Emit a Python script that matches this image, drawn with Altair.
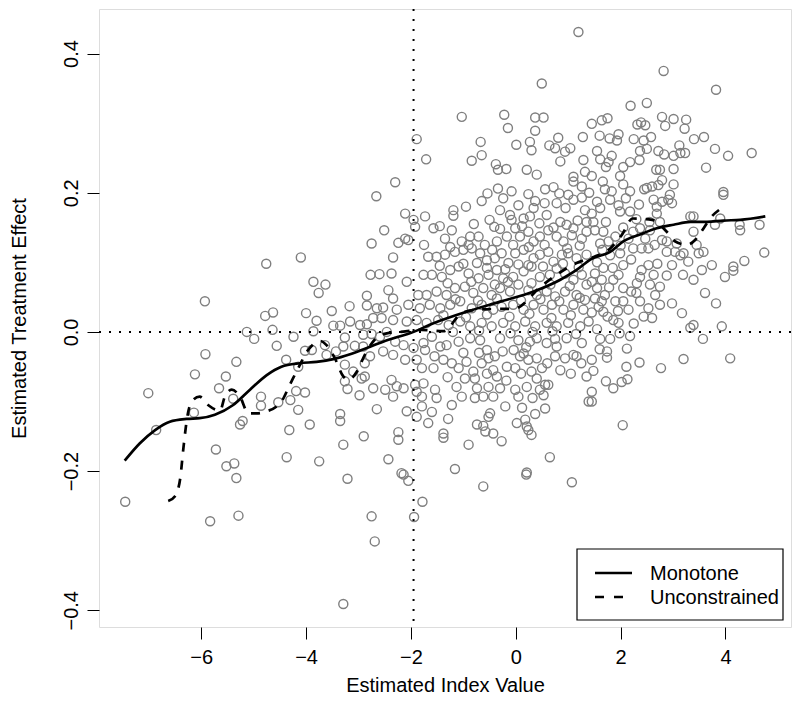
import altair as alt
import pandas as pd

# ---------------- data ----------------
# scatter points (Estimated Index Value, Estimated Treatment Effect), grouped by region
pts_upper_left = [(-2.30,0.215),(-2.66,0.195),(-2.51,0.146),(-2.75,0.127),(-2.24,0.128),(-2.34,0.107),
    (-4.10,0.107),(-4.76,0.098),(-2.77,0.082),(-2.60,0.083),(-2.37,0.084),(-3.86,0.072),(-3.63,0.068),
    (-3.76,0.056),(-2.43,0.060),(-2.84,0.052),(-2.34,0.048),(-5.93,0.044),(-3.17,0.037),(-2.84,0.038),
    (-2.65,0.034),(-2.53,0.035),(-2.27,0.032),(-4.63,0.028),(-4.00,0.027),(-3.51,0.030),(-4.78,0.023)]

pts_lower_left = [(-3.80,0.016),(-5.13,0.000),(-4.99,-0.010),(-4.64,0.003),(-4.24,-0.007),(-4.56,-0.020),
    (-3.86,0.001),(-4.02,-0.027),(-3.89,-0.026),(-3.64,-0.019),(-3.48,0.009),(-3.35,0.009),(-3.16,0.015),
    (-3.26,-0.008),(-3.43,-0.028),(-3.61,-0.033),(-3.29,-0.021),(-3.07,-0.020),(-2.91,-0.021),(-2.97,0.010),
    (-2.84,0.011),(-2.72,0.020),(-2.56,0.020),(-2.34,0.017),(-2.91,-0.004),(-2.75,-0.003),(-2.59,-0.007),
    (-2.46,0.000),(-2.30,-0.014),(-2.53,-0.028),(-2.34,-0.033),(-2.78,-0.035),(-2.88,-0.045),(-3.26,-0.047),
    (-2.37,-0.069),(-2.27,-0.078),(-2.49,-0.083),(-2.34,-0.093),(-2.72,-0.081),(-2.98,-0.091),(-3.21,-0.082),
    (-3.26,-0.071),(-3.10,-0.057),(-2.88,-0.064),(-2.94,-0.067),(-2.65,-0.111),(-3.35,-0.118),(-3.35,-0.128),
    (-4.15,-0.050),(-4.38,-0.040),(-3.93,-0.133),(-4.15,-0.112),(-4.02,-0.087),(-4.19,-0.085),(-4.30,-0.098),
    (-4.53,-0.101),(-4.86,-0.093),(-4.86,-0.106),(-4.32,-0.141),(-5.21,-0.128),(-5.26,-0.133),(-5.39,-0.096),
    (-5.66,-0.081),(-5.53,-0.064),(-5.33,-0.043),(-5.92,-0.032),(-6.12,-0.061),(-6.14,-0.116),(-7.01,-0.088),
    (-6.86,-0.141),(-5.72,-0.169),(-5.52,-0.193),(-5.37,-0.189),(-5.33,-0.210),(-4.37,-0.180),(-3.75,-0.186),
    (-3.29,-0.162),(-2.90,-0.150),(-2.43,-0.183),(-2.24,-0.155),(-2.24,-0.144),(-3.21,-0.211),(-7.45,-0.244),
    (-5.83,-0.272),(-5.29,-0.264),(-2.75,-0.265),(-2.69,-0.301),(-3.29,-0.391),(-2.18,-0.203)]

pts_top_mid = [(1.195,0.431),(0.496,0.357),(-1.03,0.309),(-0.22,0.312),(-0.15,0.293),(0.37,0.308),(0.53,0.308),
    (0.37,0.289),(-1.89,0.277),(-0.67,0.273),(0.01,0.269),(0.27,0.273),(0.30,0.261),(0.64,0.268),(0.75,0.264),
    (0.81,0.279),(1.04,0.264),(0.94,0.259),(1.28,0.280),(1.45,0.299),(-1.71,0.248),(-0.84,0.246),(-0.65,0.254),
    (-0.38,0.241),(-0.34,0.233),(-0.18,0.234),(0.21,0.233),(0.40,0.226),(0.85,0.245),(1.29,0.247),(1.32,0.230),
    (1.10,0.223),(1.10,0.216),(1.26,0.209),(-0.54,0.199),(-0.34,0.206),(-0.08,0.202),(0.24,0.198),(0.56,0.205),
    (0.72,0.208),(0.83,0.199),(1.00,0.197)]

pts_top_right = [(2.82,0.375),(3.82,0.348),(2.19,0.325),(2.50,0.329),(2.79,0.309),(3.01,0.306),(3.25,0.305),
    (3.22,0.292),(2.85,0.296),(2.32,0.298),(2.39,0.301),(2.47,0.297),(1.64,0.304),(1.75,0.307),(1.60,0.282),
    (1.79,0.278),(1.96,0.284),(1.93,0.275),(2.25,0.277),(2.44,0.275),(2.58,0.280),(1.55,0.260),(1.83,0.253),
    (1.61,0.248),(1.77,0.244),(1.72,0.237),(2.05,0.237),(2.18,0.244),(2.36,0.247),(2.37,0.260),(2.50,0.263),
    (2.72,0.260),(2.83,0.255),(3.01,0.253),(3.12,0.268),(3.14,0.257),(3.23,0.257),(3.40,0.277),(3.59,0.280),
    (3.80,0.263),(4.05,0.253),(4.50,0.257),(3.63,0.236),(2.68,0.233),(2.75,0.233),(3.01,0.234),(1.99,0.224),
    (1.45,0.224),(1.66,0.216),(2.05,0.212),(1.83,0.202),(2.18,0.202),(2.50,0.207),(2.60,0.209),(2.72,0.211),
    (2.79,0.218),(3.01,0.212),(3.96,0.201),(2.94,0.197)]

pts_center_upper = [(-2.11,0.170),(-1.92,0.151),(-1.95,0.161),(-1.73,0.166),(-1.57,0.149),(-1.19,0.175),
    (-1.19,0.167),(-0.65,0.188),(-0.50,0.161),(-0.41,0.151),(-0.24,0.192),(-0.11,0.168),(-0.08,0.161),(0.15,0.163),
    (0.27,0.166),(0.34,0.178),(0.37,0.188),(0.59,0.168),(0.78,0.185),(0.85,0.158),(0.97,0.154),(1.10,0.149),
    (1.26,0.193),(1.32,0.175),(1.35,0.158),(-2.11,0.134),(-2.05,0.132),(-1.35,0.134),(-1.22,0.146),(-1.03,0.130),
    (-0.87,0.137),(-0.71,0.137),(-0.59,0.125),(-0.36,0.130),(-0.17,0.137),(-0.01,0.149),(0.08,0.137),(0.24,0.144),
    (0.34,0.130),(0.46,0.137),(0.62,0.146),(0.78,0.137),(0.91,0.130),(1.07,0.139),(1.26,0.134),(1.35,0.144),
    (-1.67,0.108),(-1.51,0.108),(-1.35,0.111),(-1.16,0.115),(-1.00,0.118),(-0.84,0.120),(-0.68,0.113),(-0.74,0.099),
    (-0.55,0.103),(-0.40,0.106),(-0.27,0.113),(-0.14,0.099),(-0.01,0.113),(0.15,0.118),(0.24,0.096),(0.34,0.106),
    (0.46,0.111),(0.62,0.115),(0.72,0.101),(0.88,0.111),(1.00,0.113),(1.16,0.106),(1.35,0.111),(-1.76,0.082),
    (-1.60,0.082),(-1.41,0.079),(-1.25,0.089),(-1.09,0.094),(-0.90,0.084),(-0.71,0.077),(-0.52,0.082),(-0.36,0.089),
    (-0.24,0.077),(-0.05,0.079),(0.15,0.087),(0.30,0.094),(0.46,0.079),(0.65,0.082),(0.78,0.091),(0.94,0.084),
    (1.10,0.075),(1.26,0.082),(1.35,0.068),(-2.08,0.072),(-2.05,0.039),(-1.86,0.053),(-1.70,0.053),(-1.51,0.058),
    (-1.32,0.053),(-1.16,0.063),(-0.97,0.065),(-0.81,0.056),(-0.62,0.063),(-0.46,0.053),(-0.30,0.063),(-0.11,0.058),
    (0.05,0.068),(0.24,0.060),(0.40,0.053),(0.59,0.058),(0.75,0.051),(0.94,0.058),(1.16,0.053),(1.32,0.046),
    (-1.83,0.034),(-1.64,0.039),(-1.44,0.034),(-1.25,0.039),(-1.06,0.044),(-0.84,0.034),(-0.65,0.039),(-0.43,0.032),
    (-0.27,0.036),(-0.05,0.039),(0.15,0.032),(0.34,0.039),(0.53,0.032),(0.69,0.039),(0.91,0.032),(1.10,0.039),
    (1.29,0.032),(-2.08,0.015),(-1.89,0.017),(-1.70,0.013),(-1.48,0.017),(-1.28,0.010),(-1.06,0.015),(-0.87,0.008),
    (-0.65,0.013),(-0.46,0.008),(-0.24,0.013),(-0.01,0.008),(0.18,0.015),(0.37,0.008),(0.59,0.013),(0.78,0.008),
    (1.00,0.013),(1.23,0.008),(1.39,0.015)]

pts_center_dense = [(-1.38,0.024),(-0.95,0.021),(-0.55,0.025),(-0.12,0.022),(0.26,0.026),(0.68,0.020),
    (1.05,0.024),(1.45,0.028),(1.75,0.022),(2.25,0.012),(-1.15,0.047),(-0.72,0.045),(-0.36,0.048),(0.10,0.045),
    (0.47,0.047),(0.83,0.044),(1.22,0.049),(1.58,0.036),(1.95,0.030),(2.30,0.056),(-1.30,0.070),(-0.85,0.072),
    (-0.40,0.068),(-0.15,0.072),(0.30,0.070),(0.66,0.068),(1.03,0.066),(1.45,0.072),(1.78,0.064),(2.20,0.058),
    (2.75,0.065),(-1.45,0.095),(-1.00,0.098),(-0.55,0.092),(-0.20,0.090),(0.05,0.097),(0.52,0.094),(0.90,0.098),
    (1.20,0.093),(1.55,0.100),(1.85,0.092),(2.20,0.104),(2.70,0.098),(-1.75,0.125),(-1.25,0.122),(-0.90,0.125),
    (-0.45,0.118),(-0.05,0.125),(0.25,0.122),(0.55,0.125),(0.98,0.120),(1.22,0.124),(1.65,0.118),(2.00,0.124),
    (2.65,0.125),(-1.45,0.152),(-0.80,0.155),(-0.30,0.148),(0.12,0.152),(0.45,0.156),(0.72,0.150),(1.18,0.160),
    (1.45,0.170),(1.72,0.158),(2.05,0.150),(2.30,0.162),(2.55,0.158),(-0.95,0.180),(-0.30,0.175),(0.05,0.182),
    (0.55,0.185),(0.95,0.178),(1.10,0.190),(1.40,0.200),(1.70,0.205),(2.10,0.192),(2.35,0.183),(2.45,0.205),
    (-1.20,0.000),(-0.70,0.002),(-0.10,-0.002),(0.32,0.000),(0.70,0.001),(1.15,-0.003),(1.55,0.004),(1.98,-0.002),
    (-1.55,-0.035),(-1.00,-0.030),(-0.70,-0.030),(-0.25,-0.028),(0.20,-0.022),(0.60,-0.045),(0.85,-0.055),
    (1.05,-0.060),(1.25,-0.045),(0.32,-0.095),(-0.18,-0.070),(-1.30,-0.065),(-0.55,-0.060),(0.10,-0.060),
    (0.75,-0.010),(1.60,-0.025)]

pts_right_upper = [(1.55,0.187),(1.61,0.178),(1.80,0.190),(1.96,0.182),(1.99,0.173),(2.18,0.173),(2.63,0.190),
    (2.69,0.180),(2.79,0.187),(2.91,0.190),(2.98,0.185),(2.69,0.170),(2.75,0.158),(3.33,0.166),(3.39,0.166),
    (3.80,0.154),(3.90,0.163),(3.96,0.197),(4.27,0.154),(4.28,0.146),(4.65,0.154),(4.74,0.114),(1.48,0.158),
    (1.51,0.146),(1.67,0.144),(1.77,0.130),(1.61,0.127),(1.90,0.137),(2.15,0.134),(2.24,0.144),(2.37,0.149),
    (2.56,0.146),(2.47,0.134),(2.24,0.120),(2.40,0.120),(2.53,0.120),(2.79,0.132),(2.88,0.130),(2.88,0.115),
    (3.04,0.115),(3.07,0.127),(3.14,0.110),(3.20,0.113),(3.39,0.144),(3.45,0.125),(3.49,0.113),(3.58,0.115),
    (3.29,0.101),(3.55,0.089),(3.74,0.096),(3.39,0.075),(2.98,0.096),(3.19,0.082),(2.88,0.081),(2.63,0.082),
    (2.53,0.096),(2.40,0.089),(2.37,0.079),(2.31,0.070),(2.56,0.068),(2.66,0.053),(2.75,0.039),(2.98,0.041),
    (3.17,0.027),(2.53,0.034),(2.37,0.044),(2.44,0.022),(2.60,0.020),(2.15,0.032),(2.05,0.044),(1.90,0.044),
    (2.05,0.063),(1.86,0.075),(1.67,0.092),(1.64,0.075),(1.51,0.084),(1.55,0.063),(1.70,0.053),(1.64,0.044),
    (1.51,0.048),(1.67,0.029),(1.86,0.017),(1.96,0.013),(1.80,0.110),(1.99,0.113),(2.05,0.096),(1.96,0.082),
    (3.61,0.056),(3.82,0.041),(3.99,0.079),(4.15,0.094),(4.15,0.088),(4.36,0.102),(3.33,0.006),(3.93,0.008),
    (3.39,0.010)]

pts_center_lower = [(-2.14,-0.019),(-1.95,-0.023),(-1.76,-0.016),(-1.73,-0.026),(-1.60,-0.007),(-1.44,-0.021),
    (-1.32,-0.019),(-1.09,-0.014),(-0.87,-0.009),(-0.68,-0.012),(-0.55,-0.026),(-0.40,-0.035),(-0.30,-0.009),
    (-0.04,-0.026),(0.05,-0.012),(0.15,-0.031),(0.27,-0.014),(0.40,-0.009),(0.59,-0.016),(0.78,-0.021),
    (0.97,-0.009),(1.10,-0.033),(1.26,-0.016),(-2.11,-0.040),(-1.89,-0.040),(-1.79,-0.052),(-1.57,-0.052),
    (-1.38,-0.040),(-1.22,-0.045),(-1.09,-0.052),(-0.94,-0.043),(-0.81,-0.057),(-0.65,-0.045),(-0.52,-0.038),
    (-0.43,-0.055),(-0.36,-0.064),(-0.17,-0.050),(-0.01,-0.052),(0.08,-0.035),(0.24,-0.040),(0.30,-0.057),
    (0.40,-0.038),(0.50,-0.052),(0.75,-0.035),(0.94,-0.038),(1.16,-0.035),(1.35,-0.064),(1.39,-0.100),
    (-2.14,-0.081),(-1.92,-0.076),(-1.76,-0.074),(-1.54,-0.083),(-1.51,-0.095),(-1.79,-0.093),(-1.89,-0.086),
    (-1.13,-0.079),(-1.03,-0.093),(-0.97,-0.067),(-0.78,-0.067),(-0.74,-0.081),(-0.78,-0.095),(-0.62,-0.093),
    (-0.52,-0.079),(-0.43,-0.093),(-0.30,-0.081),(-0.01,-0.083),(0.05,-0.093),(0.21,-0.079),(0.40,-0.067),
    (0.46,-0.083),(0.56,-0.076),(0.53,-0.091),(0.62,-0.076),(-1.22,-0.105),(-1.79,-0.107),(-2.08,-0.114),
    (-1.89,-0.122),(-1.60,-0.115),(-1.67,-0.131),(-1.29,-0.125),(-1.38,-0.146),(-1.38,-0.152),(-0.90,-0.162),
    (-0.74,-0.133),(-0.58,-0.143),(-0.52,-0.122),(-0.49,-0.117),(-0.62,-0.135),(-0.43,-0.146),(-0.27,-0.157),
    (-0.20,-0.107),(0.02,-0.131),(0.12,-0.109),(0.18,-0.126),(0.21,-0.136),(0.24,-0.141),(0.30,-0.148),
    (0.37,-0.118),(0.56,-0.110),(0.65,-0.180),(-1.16,-0.197),(0.21,-0.202)]

pts_right_lower = [(1.61,-0.010),(1.80,-0.010),(2.18,-0.006),(3.57,-0.010),(1.74,-0.028),(1.74,-0.037),
    (2.12,-0.024),(1.45,-0.040),(1.48,-0.056),(2.11,-0.050),(2.36,-0.044),(2.77,-0.052),(3.20,-0.039),
    (4.09,-0.038),(1.72,-0.071),(1.86,-0.081),(2.02,-0.072),(2.13,-0.068),(1.45,-0.086),(1.45,-0.100),
    (2.04,-0.134)]

pts_bottom = [(-2.05,-0.214),(-2.14,-0.205),(-1.78,-0.244),(-1.94,-0.266),(-0.62,-0.222),(0.20,-0.205),
    (1.07,-0.216)]

# fitted curves
mono_x = [-7.46,-7.17,-6.88,-6.60,-6.28,-6.03,-5.74,-5.39,-5.07,-4.75,-4.47,-4.12,-3.80,-3.48,-3.16,-2.84,
          -2.53,-2.24,-2.02,-1.57,-0.94,-0.30,0.34,0.85,1.16,1.42,1.80,2.05,2.37,2.69,3.01,3.33,3.65,3.96,4.28,4.76]
mono_y = [-0.185,-0.160,-0.141,-0.129,-0.125,-0.124,-0.119,-0.105,-0.083,-0.062,-0.050,-0.045,-0.043,-0.039,
          -0.032,-0.023,-0.014,-0.007,-0.002,0.0125,0.029,0.0435,0.058,0.075,0.089,0.104,0.115,0.130,0.140,0.149,
          0.154,0.158,0.158,0.160,0.161,0.166]

unc_x = [-6.63,-6.50,-6.40,-6.34,-6.27,-6.18,-6.03,-5.87,-5.64,-5.55,-5.42,-5.26,-5.10,-4.94,-4.75,-4.56,-4.47,
         -4.31,-4.15,-3.96,-3.73,-3.61,-3.45,-3.29,-3.19,-3.03,-2.88,-2.65,-2.46,-2.20,-1.80,-1.38,-1.03,-0.71,
         -0.36,-0.05,0.52,1.16,1.50,1.80,2.02,2.23,2.60,2.88,3.04,3.17,3.26,3.42,3.52,3.74,3.93]
unc_y = [-0.243,-0.236,-0.210,-0.167,-0.124,-0.100,-0.093,-0.105,-0.113,-0.093,-0.083,-0.093,-0.117,-0.117,
         -0.114,-0.107,-0.100,-0.076,-0.052,-0.026,-0.013,-0.019,-0.038,-0.064,-0.069,-0.057,-0.033,-0.008,-0.002,
         0.000,0.003,0.001,0.027,0.032,0.033,0.033,0.068,0.099,0.108,0.120,0.139,0.163,0.161,0.144,0.130,0.126,
         0.125,0.132,0.142,0.166,0.178]

ref_x = [-1.95]
ref_y = [0.0]
x_ticks = [-6, -4, -2, 0, 2, 4]
y_ticks = [-0.4, -0.2, 0.0, 0.2, 0.4]
legend_labels = ["Monotone", "Unconstrained"]

# ---------------- build ----------------
all_pts = (pts_upper_left + pts_lower_left + pts_top_mid + pts_top_right + pts_center_upper
           + pts_center_dense + pts_right_upper + pts_center_lower + pts_right_lower + pts_bottom)
pts = pd.DataFrame(all_pts, columns=["x", "y"])
mono = pd.DataFrame({"x": mono_x, "y": mono_y})
unc = pd.DataFrame({"x": unc_x, "y": unc_y})

FONT = "Liberation Sans"
W, H = 692, 618
xs = alt.Scale(domain=[-7.95, 5.25], nice=False, zero=False)
ys = alt.Scale(domain=[-0.424, 0.464], nice=False, zero=False)

xax = alt.Axis(values=x_ticks, format="d", title="Estimated Index Value", grid=False, domain=False,
               tickSize=12, tickColor="black", labelFontSize=20, labelFont=FONT, labelColor="black",
               labelPadding=8, titleFontSize=20, titleFont=FONT, titleFontWeight="normal",
               titleColor="black", titlePadding=8)
yax = alt.Axis(values=y_ticks, format=".1f", title="Estimated Treatment Effect", grid=False, domain=False,
               tickSize=12, tickColor="black", labelFontSize=20, labelFont=FONT, labelColor="black",
               labelAngle=270, labelAlign="center", labelBaseline="bottom", labelPadding=6,
               titleFontSize=20, titleFont=FONT, titleFontWeight="normal", titleColor="black",
               titlePadding=32)

points = alt.Chart(pts).mark_point(shape="circle", filled=False, size=82, strokeWidth=1.4,
                                   color="#7f7f7f", opacity=1).encode(
    x=alt.X("x:Q", scale=xs, axis=xax),
    y=alt.Y("y:Q", scale=ys, axis=yax),
)

vline = alt.Chart(pd.DataFrame({"x": ref_x})).mark_rule(color="black", strokeWidth=2,
                                                         strokeDash=[2, 8]).encode(x=alt.X("x:Q", scale=xs))
hline = alt.Chart(pd.DataFrame({"y": ref_y})).mark_rule(color="black", strokeWidth=2,
                                                         strokeDash=[2, 8]).encode(y=alt.Y("y:Q", scale=ys))

mono_line = alt.Chart(mono).mark_line(color="black", strokeWidth=2.7, interpolate="monotone").encode(
    x=alt.X("x:Q", scale=xs), y=alt.Y("y:Q", scale=ys))
unc_line = alt.Chart(unc).mark_line(color="black", strokeWidth=2.7, strokeDash=[9, 9],
                                    interpolate="monotone").encode(
    x=alt.X("x:Q", scale=xs), y=alt.Y("y:Q", scale=ys))

one = pd.DataFrame({"a": [0]})
leg_box = alt.Chart(one).mark_rect(fill="white", stroke="black", strokeWidth=1.2).encode(
    x=alt.value(478), x2=alt.value(684), y=alt.value(540), y2=alt.value(611))
leg_solid = alt.Chart(one).mark_rule(color="black", strokeWidth=2.7).encode(
    x=alt.value(496), x2=alt.value(533), y=alt.value(564))
leg_dash = alt.Chart(one).mark_rule(color="black", strokeWidth=2.7, strokeDash=[9, 10]).encode(
    x=alt.value(496), x2=alt.value(533), y=alt.value(588))
leg_t1 = alt.Chart(one).mark_text(align="left", baseline="alphabetic", fontSize=20, font=FONT,
                                  color="black").encode(
    x=alt.value(551), y=alt.value(571), text=alt.value(legend_labels[0]))
leg_t2 = alt.Chart(one).mark_text(align="left", baseline="alphabetic", fontSize=20, font=FONT,
                                  color="black").encode(
    x=alt.value(551), y=alt.value(595), text=alt.value(legend_labels[1]))

chart = alt.layer(points, vline, hline, mono_line, unc_line,
                  leg_box, leg_solid, leg_dash, leg_t1, leg_t2).properties(
    width=W, height=H,
    autosize=alt.AutoSizeParams(type="none"),
    padding={"left": 91, "top": 1, "right": 1, "bottom": 92},
).configure_view(stroke="black", strokeWidth=1.2).configure(background="white")

chart.save("out.html", embed_options={"renderer": "svg", "actions": False})
